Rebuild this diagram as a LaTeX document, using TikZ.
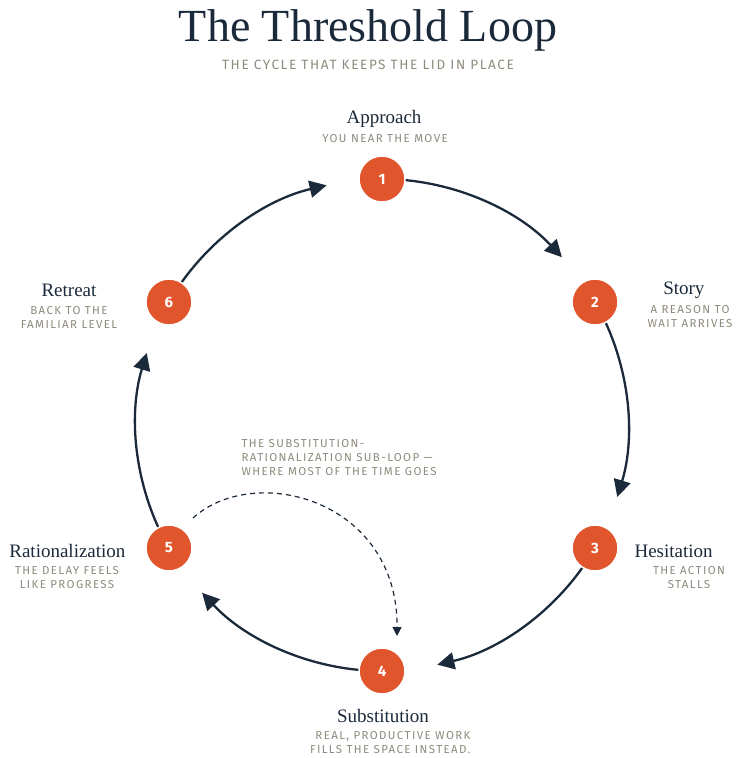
\documentclass[tikz,border=0pt]{standalone}
\usepackage{fontspec}
\setmainfont{Liberation Serif}
\newfontfamily\capsf[LetterSpace=12]{Fira Sans}
\newfontfamily\numf{Fira Sans}
\usetikzlibrary{arrows.meta,calc}
\definecolor{navy}{HTML}{1B2A3A}
\definecolor{orng}{HTML}{E0552B}
\definecolor{gry}{HTML}{8E8A7C}
\begin{document}
\begin{tikzpicture}[x=1pt,y=-1pt,
  stepnode/.style={circle,fill=orng,draw=white,line width=1.5pt,minimum size=46pt,inner sep=0pt,text=white,font=\numf\bfseries\fontsize{15}{15}\selectfont},
  ttl/.style={text=navy,font=\fontsize{19}{19}\selectfont},
  sub/.style={text=gry,font=\capsf\fontsize{11.5}{14}\selectfont,align=center},
  arc/.style={navy,line width=2.3pt,-{Triangle[length=17pt,width=17pt]}}]
\useasboundingbox (0,0) rectangle (736,758);
\node[text=navy,font=\fontsize{46}{46}\selectfont] (title) at (368,30) {The Threshold Loop};
\node[text=gry,font=\capsf\fontsize{13.5}{13.5}\selectfont] (subt) at (368,65) {THE CYCLE THAT KEEPS THE LID IN PLACE};
\coordinate (c) at (382,425);
\foreach \a in {-90,-30,30,90,150,210}{
  \draw[arc] ($(c)+({\a+5}:246)$) arc[start angle=\a+5,end angle=\a+47,radius=246];
}
\node[stepnode] (n1) at ($(c)+(-90:246)$) {1};
\node[stepnode] (n2) at ($(c)+(-30:246)$) {2};
\node[stepnode] (n3) at ($(c)+(30:246)$) {3};
\node[stepnode] (n4) at ($(c)+(90:246)$) {4};
\node[stepnode] (n5) at ($(c)+(150:246)$) {5};
\node[stepnode] (n6) at ($(c)+(210:246)$) {6};
\draw[navy,line width=1.2pt,dash pattern=on 5pt off 4pt,-{Triangle[length=9pt,width=9pt]}] (193,518) .. controls (255,462) and (398,500) .. (397,636);
\node[sub,align=left,anchor=north west] (note) at (238,436) {THE SUBSTITUTION-\\RATIONALIZATION SUB-LOOP —\\WHERE MOST OF THE TIME GOES};
\node[ttl] (l1) at (384,119) {Approach};
\node[sub] at (385,139) {YOU NEAR THE MOVE};
\node[ttl,anchor=east] (l2) at (708,290) {Story};
\node[sub,anchor=east] at (736,317) {A REASON TO\\WAIT ARRIVES};
\node[ttl,anchor=west] (l3) at (631,551) {Hesitation};
\node[sub] at (689,578) {THE ACTION\\STALLS};
\node[ttl] (l4) at (383,716) {Substitution};
\node[sub,align=right,anchor=north east,inner ysep=1pt] at (474,730) {REAL, PRODUCTIVE WORK\\FILLS THE SPACE INSTEAD.};
\node[ttl,anchor=east] (l5) at (129,551) {Rationalization};
\node[sub] at (67,578) {THE DELAY FEELS\\LIKE PROGRESS};
\node[ttl,anchor=west] (l6) at (38,290) {Retreat};
\node[sub] at (69,317) {BACK TO THE\\FAMILIAR LEVEL};
\end{tikzpicture}
\end{document}
